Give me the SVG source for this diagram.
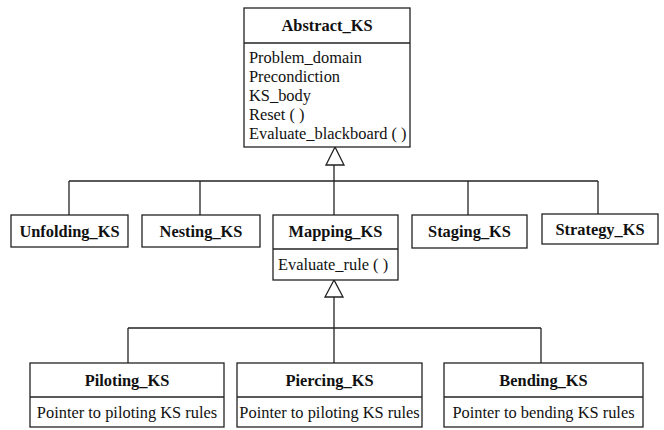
<svg xmlns="http://www.w3.org/2000/svg" width="664" height="430" viewBox="0 0 664 430">
<style>
.box{fill:#fff;stroke:#222;stroke-width:1.3}
.ln{fill:none;stroke:#222;stroke-width:1.3}
.tri{fill:#fff;stroke:#222;stroke-width:1.3}
.t{font-family:"Liberation Serif","Times New Roman",serif;font-size:16.4px;font-weight:bold;fill:#111;text-anchor:middle}
.a{font-family:"Liberation Serif","Times New Roman",serif;font-size:16.4px;fill:#111}
.ac{font-family:"Liberation Serif","Times New Roman",serif;font-size:16.4px;fill:#111;text-anchor:middle}
</style>
<rect width="664" height="430" fill="#fff"/>
<g id="connectors">
<line class="ln" x1="334" y1="165" x2="334" y2="215"/>
<line class="ln" x1="69" y1="181" x2="598" y2="181"/>
<line class="ln" x1="69" y1="181" x2="69" y2="215"/>
<line class="ln" x1="200" y1="181" x2="200" y2="215"/>
<line class="ln" x1="468" y1="181" x2="468" y2="215"/>
<line class="ln" x1="598" y1="181" x2="598" y2="214"/>
<polygon class="tri" points="335,147 326,165 344,165"/>
<line class="ln" x1="334" y1="297" x2="334" y2="363"/>
<line class="ln" x1="128" y1="328" x2="541" y2="328"/>
<line class="ln" x1="128" y1="328" x2="128" y2="363"/>
<line class="ln" x1="541" y1="328" x2="541" y2="363"/>
<polygon class="tri" points="334,280 325,297 343,297"/>
</g>
<g id="abstract_ks">
<rect class="box" x="244" y="8" width="166" height="139"/>
<line class="ln" x1="244" y1="43" x2="410" y2="43"/>
<text class="t" x="327" y="31">Abstract_KS</text>
<text class="a" x="249" y="63">Problem_domain</text>
<text class="a" x="249" y="82">Precondiction</text>
<text class="a" x="249" y="101">KS_body</text>
<text class="a" x="249" y="120">Reset ( )</text>
<text class="a" x="249" y="139">Evaluate_blackboard ( )</text>
</g>
<g id="unfolding_ks">
<rect class="box" x="11" y="215" width="117" height="32"/>
<text class="t" x="69.5" y="237">Unfolding_KS</text>
</g>
<g id="nesting_ks">
<rect class="box" x="142" y="215" width="118" height="32"/>
<text class="t" x="201" y="237">Nesting_KS</text>
</g>
<g id="mapping_ks">
<rect class="box" x="273" y="215" width="125" height="65"/>
<line class="ln" x1="273" y1="249" x2="398" y2="249"/>
<text class="t" x="335.5" y="237">Mapping_KS</text>
<text class="a" x="278" y="270">Evaluate_rule ( )</text>
</g>
<g id="staging_ks">
<rect class="box" x="412" y="215" width="115" height="33"/>
<text class="t" x="469.5" y="237">Staging_KS</text>
</g>
<g id="strategy_ks">
<rect class="box" x="542" y="214" width="116" height="30"/>
<text class="t" x="600" y="235">Strategy_KS</text>
</g>
<g id="piloting_ks">
<rect class="box" x="30" y="363" width="194" height="64"/>
<line class="ln" x1="30" y1="397" x2="224" y2="397"/>
<text class="t" x="127" y="386">Piloting_KS</text>
<text class="ac" x="127" y="418">Pointer to piloting KS rules</text>
</g>
<g id="piercing_ks">
<rect class="box" x="237" y="363" width="185" height="64"/>
<line class="ln" x1="237" y1="397" x2="422" y2="397"/>
<text class="t" x="329.5" y="386">Piercing_KS</text>
<text class="ac" x="329.5" y="418">Pointer to piloting KS rules</text>
</g>
<g id="bending_ks">
<rect class="box" x="444" y="363" width="199" height="64"/>
<line class="ln" x1="444" y1="397" x2="643" y2="397"/>
<text class="t" x="543.5" y="386">Bending_KS</text>
<text class="ac" x="543.5" y="418">Pointer to bending KS rules</text>
</g>
</svg>
